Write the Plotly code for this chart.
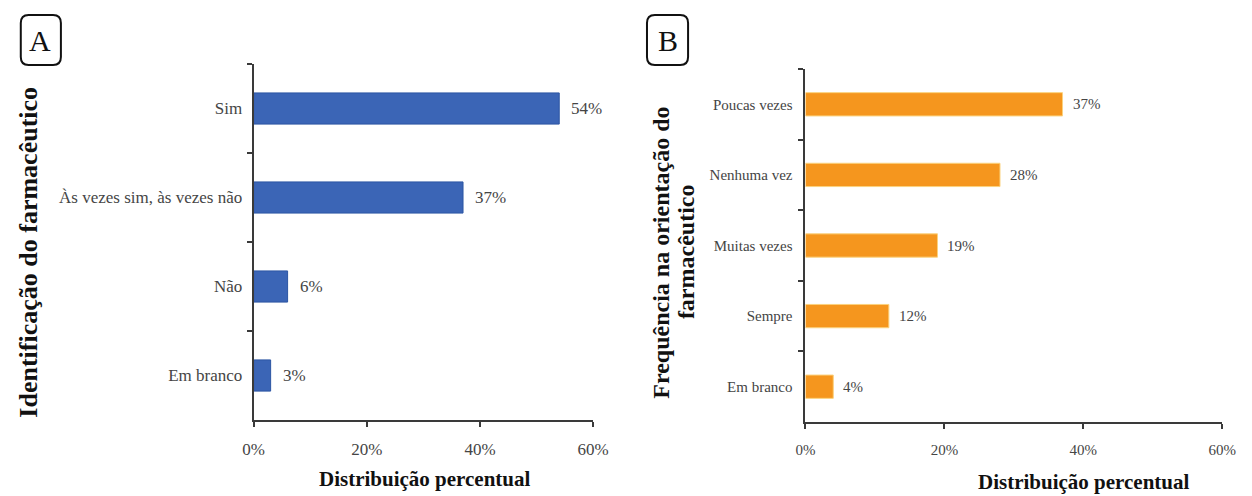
import plotly.graph_objects as go

# Panel A: pharmacist identification
cats_a = ["Sim", "Às vezes sim, às vezes não", "Não", "Em branco"]
vals_a = [54, 37, 6, 3]

# Panel B: frequency of pharmacist guidance
cats_b = ["Poucas vezes", "Nenhuma vez", "Muitas vezes", "Sempre", "Em branco"]
vals_b = [37, 28, 19, 12, 4]

x_ticks = [0, 20, 40, 60]
x_ticktext = ["0%", "20%", "40%", "60%"]

W, H = 1252, 496
SERIF = "Liberation Serif"
BLUE = "#3b65b6"
ORANGE = "#f5961e"
AXIS = "#3a3a3a"
TXT = "#454545"


def px(x):
    return x / W


def py(y):
    return 1 - y / H


fig = go.Figure()

fig.add_trace(go.Bar(
    y=cats_a, x=vals_a, orientation="h", width=0.35,
    marker=dict(color=BLUE, line=dict(color="#2c55a3", width=1)),
    xaxis="x", yaxis="y", showlegend=False, hoverinfo="x+y",
))
fig.add_trace(go.Bar(
    y=cats_b, x=vals_b, orientation="h", width=0.33,
    marker=dict(color=ORANGE, line=dict(color="#fbd27e", width=1)),
    xaxis="x2", yaxis="y2", showlegend=False, hoverinfo="x+y",
))

annotations = []
for c, v in zip(cats_a, vals_a):
    annotations.append(dict(
        x=v, y=c, xref="x", yref="y", text=f"{v}%", showarrow=False,
        xanchor="left", yanchor="middle", xshift=10,
        font=dict(family=SERIF, size=17, color=TXT)))
for c, v in zip(cats_b, vals_b):
    annotations.append(dict(
        x=v, y=c, xref="x2", yref="y2", text=f"{v}%", showarrow=False,
        xanchor="left", yanchor="middle", xshift=8,
        font=dict(family=SERIF, size=15, color=TXT)))


def label(x, y, text, size, angle=0):
    return dict(x=px(x), y=py(y), xref="paper", yref="paper", showarrow=False,
                xanchor="center", yanchor="middle", textangle=angle, text=text,
                font=dict(family=SERIF, size=size, color="#111"))


# Axis titles and panel letters
annotations += [
    label(423, 479, "<b>Distribuição percentual</b>", 21),
    label(1097, 482, "<b>Distribuição percentual</b>", 21),
    label(17, 252, "<b>Identificação do farmacêutico</b>", 26, -90),
    label(664, 253, "<b>Frequência na orientação do</b>", 24, -90),
    label(690, 252, "<b>farmacêutico</b>", 24, -90),
    label(30, 40, "A", 30),
    label(671, 40, "B", 30),
]


def rounded_box(x0, y0, x1, y1, r):
    """Rounded rectangle path in paper coordinates from pixel corners."""
    pts = [
        f"M {px(x0 + r)},{py(y0)}",
        f"L {px(x1 - r)},{py(y0)}",
        f"Q {px(x1)},{py(y0)} {px(x1)},{py(y0 + r)}",
        f"L {px(x1)},{py(y1 - r)}",
        f"Q {px(x1)},{py(y1)} {px(x1 - r)},{py(y1)}",
        f"L {px(x0 + r)},{py(y1)}",
        f"Q {px(x0)},{py(y1)} {px(x0)},{py(y1 - r)}",
        f"L {px(x0)},{py(y0 + r)}",
        f"Q {px(x0)},{py(y0)} {px(x0 + r)},{py(y0)}",
        "Z",
    ]
    return dict(type="path", xref="paper", yref="paper", path=" ".join(pts),
                line=dict(color="#111", width=2))


shapes = [rounded_box(10, 15, 51, 65, 8), rounded_box(650, 15, 692, 65, 8)]

xcommon = dict(
    range=[0, 60], tickvals=x_ticks, ticktext=x_ticktext,
    showline=True, linecolor=AXIS, linewidth=2, ticks="outside",
    ticklen=5, tickwidth=1.5, tickcolor=AXIS, showgrid=False, zeroline=False,
    fixedrange=True,
)
ycommon = dict(
    type="category", showline=True, linecolor=AXIS, linewidth=2,
    ticks="outside", tickson="boundaries", ticklen=5, tickwidth=1.5,
    tickcolor=AXIS, showgrid=False, zeroline=False, fixedrange=True,
)

fig.update_layout(
    width=W, height=H,
    margin=dict(l=0, r=0, t=0, b=0),
    paper_bgcolor="white", plot_bgcolor="white",
    font=dict(family=SERIF),
    xaxis=dict(domain=[px(248), px(595)], anchor="y",
               tickfont=dict(family=SERIF, size=17, color=TXT),
               ticklabelstandoff=8, **xcommon),
    yaxis=dict(domain=[py(420), py(64)], anchor="x",
               categoryorder="array", categoryarray=cats_a,
               range=[len(cats_a) - 0.5, -0.5],
               tickfont=dict(family=SERIF, size=17, color=TXT),
               ticklabelstandoff=6, **ycommon),
    xaxis2=dict(domain=[px(812), px(1238)], anchor="y2",
                tickfont=dict(family=SERIF, size=15, color=TXT),
                ticklabelstandoff=8, **xcommon),
    yaxis2=dict(domain=[py(422), py(69)], anchor="x2",
                categoryorder="array", categoryarray=cats_b,
                range=[len(cats_b) - 0.5, -0.5],
                tickfont=dict(family=SERIF, size=15, color=TXT),
                ticklabelstandoff=8, **ycommon),
    annotations=annotations,
    shapes=shapes,
)

fig.write_html("out.html")
